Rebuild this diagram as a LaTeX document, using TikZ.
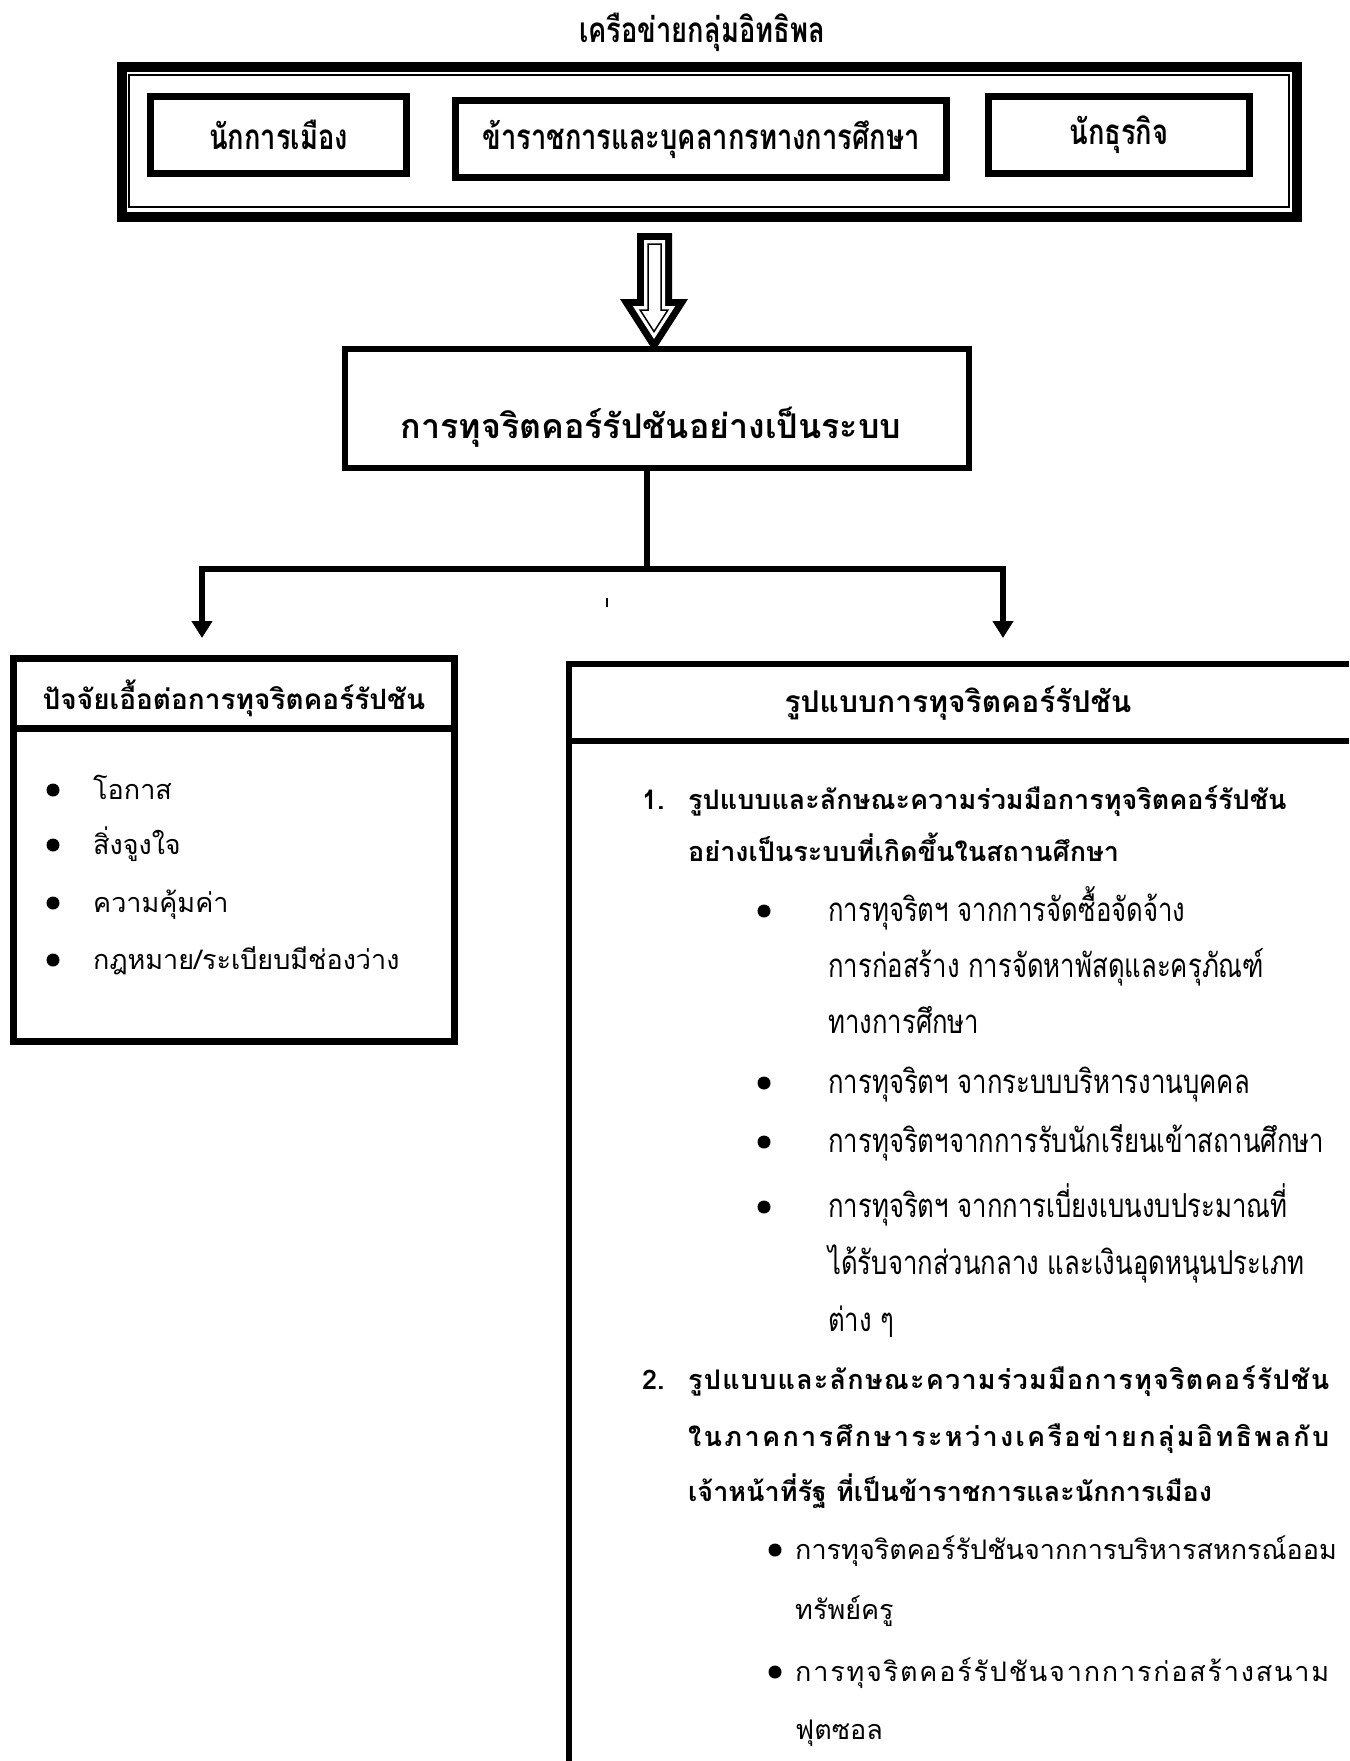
\documentclass[tikz,border=0pt]{standalone}
\usepackage{fontspec}
\usetikzlibrary{arrows.meta}
\newfontfamily\thai[Script=Thai]{Loma}
\newfontfamily\thaicond[Script=Thai,FakeStretch=0.78]{Loma}
\newcommand\tbold{\thai\bfseries\fontsize{27}{30}\selectfont}
\newcommand\treg{\thai\fontsize{27}{30}\selectfont}
\newcommand\tcond{\thaicond\fontsize{33}{36}\selectfont}
\newcommand\tcondb{\thaicond\bfseries\fontsize{35}{38}\selectfont}
\newcommand\gp{\hfil}
\begin{document}
\begin{tikzpicture}[x=1pt,y=-1pt,
  box/.style={draw, line width=7pt, inner sep=0pt},
  conn/.style={line width=5.5pt},
  tipped/.style={-{Triangle[length=17pt,width=20pt]}},
  line/.style={inner sep=0pt, anchor=base west},
  dot/.style={circle, fill, inner sep=0pt, minimum size=13pt}]
\useasboundingbox (0,0) rectangle (1349,1761);
\fill[white] (0,0) rectangle (1349,1761);

% title
\node[inner sep=0pt, font=\tcondb] (title) at (702,32) {เครือข่ายกลุ่มอิทธิพล};

% top frame
\node[draw, line width=10pt, minimum width=1175pt, minimum height=150pt] (frame) at (709.5,142) {};
\draw[line width=2pt] (129,75) rectangle (1289,207);
\node[box, minimum width=256pt, minimum height=77pt, font=\tcondb] (pol) at (278.5,135) {นักการเมือง};
\node[box, minimum width=491pt, minimum height=77pt, font=\tcondb] (off) at (701,139) {ข้าราชการและบุคลากรทางการศึกษา};
\node[box, minimum width=261pt, minimum height=77pt, font=\tcondb] (bus) at (1119,135) {นักธุรกิจ};

% hollow arrow
\fill[black] (637,233) -- (672,233) -- (672,299) -- (688,299) -- (654,352) -- (620,299) -- (637,299) -- cycle;
\fill[white] (644,240) -- (665,240) -- (665,306) -- (675.2,306) -- (654,339) -- (632.8,306) -- (644,306) -- cycle;
\draw[line width=1.5pt, line join=miter] (648,244) -- (661,244) -- (661,310) -- (667.9,310) -- (654,331.6) -- (640.1,310) -- (648,310) -- cycle;

% main box
\node[draw, line width=6pt, minimum width=624pt, minimum height=119pt] (main) at (657,408.5) {};
\node[inner sep=0pt, font=\thai\bfseries\fontsize{34}{38}\selectfont] (maintext) at (651,427) {การทุจริตคอร์รัปชันอย่างเป็นระบบ};

% connectors
\coordinate (split) at (647,569);
\coordinate (ltip) at (202,638);
\coordinate (rtip) at (1003,638);
\draw[conn] (main.south -| split) -- (split);
\draw[conn, tipped] (split) -| (ltip);
\draw[conn, tipped] (split) -| (rtip);
\draw[line width=1.5pt] (607,598) -- (607,607);

% left box
\node[box, minimum width=441pt, minimum height=383pt] (fac) at (234,850) {};
\draw[line width=7pt] (fac.west |- 0,728) -- (fac.east |- 0,728);
\node[inner sep=0pt, font=\thai\bfseries\fontsize{28}{30}\selectfont] (fach) at (234,698) {ปัจจัยเอื้อต่อการทุจริตคอร์รัปชัน};
\foreach \y/\t [count=\i] in {790/{โอกาส}, 845/{สิ่งจูงใจ}, 903/{ความคุ้มค่า}, 960/{กฎหมาย/ระเบียบมีช่องว่าง}}{
  \node[dot] (fd\i) at (53,\y) {};
  \node[line, font=\treg] (ft\i) at (93,\y+9) {\t};
}

% right box
\coordinate (rb) at (569,664);
\draw[line width=6pt] (1349,664) -- (rb) -- (569,1761);
\draw[line width=6pt] (569,741) -- (1349,741);
\node[inner sep=0pt, font=\thai\bfseries\fontsize{30}{32}\selectfont] (formh) at (958,703) {รูปแบบการทุจริตคอร์รัปชัน};

\node[line, font=\tbold] (n1) at (642,809) {1.};
\node[line, font=\tbold] (i1a) at (688,809) {รูปแบบและลักษณะความร่วมมือการทุจริตคอร์รัปชัน};
\node[line, font=\tbold] (i1b) at (688,861) {อย่างเป็นระบบที่เกิดขึ้นในสถานศึกษา};

\node[dot] (d1) at (764,911) {};
\node[line, font=\tcond] (b1a) at (828,921) {การทุจริตฯ จากการจัดซื้อจัดจ้าง};
\node[line, font=\tcond] (b1b) at (828,977) {การก่อสร้าง การจัดหาพัสดุและครุภัณฑ์};
\node[line, font=\tcond] (b1c) at (828,1033) {ทางการศึกษา};
\node[dot] (d2) at (764,1083) {};
\node[line, font=\tcond] (b2) at (828,1093) {การทุจริตฯ จากระบบบริหารงานบุคคล};
\node[dot] (d3) at (764,1142) {};
\node[line, font=\tcond] (b3) at (828,1152) {การทุจริตฯจากการรับนักเรียนเข้าสถานศึกษา};
\node[dot] (d4) at (764,1207) {};
\node[line, font=\tcond] (b4a) at (828,1217) {การทุจริตฯ จากการเบี่ยงเบนงบประมาณที่};
\node[line, font=\tcond] (b4b) at (828,1274) {ได้รับจากส่วนกลาง และเงินอุดหนุนประเภท};
\node[line, font=\tcond] (b4c) at (828,1331) {ต่าง ๆ};

\node[line, font=\tbold] (n2) at (642,1389) {2.};
\node[line, font=\tbold] (i2a) at (688,1389) {\makebox[641pt][s]{รู\gp ป\gp แ\gp บ\gp บ\gp แ\gp ล\gp ะ\gp ลั\gp ก\gp ษ\gp ณ\gp ะ\gp ค\gp ว\gp า\gp ม\gp ร่\gp ว\gp ม\gp มื\gp อ\gp ก\gp า\gp ร\gp ทุ\gp จ\gp ริ\gp ต\gp ค\gp อ\gp ร์\gp รั\gp ป\gp ชั\gp น}};
\node[line, font=\tbold] (i2b) at (688,1446) {\makebox[641pt][s]{ใ\gp น\gp ภ\gp า\gp ค\gp ก\gp า\gp ร\gp ศึ\gp ก\gp ษ\gp า\gp ร\gp ะ\gp ห\gp ว่\gp า\gp ง\gp เ\gp ค\gp รื\gp อ\gp ข่\gp า\gp ย\gp ก\gp ลุ่\gp ม\gp อิ\gp ท\gp ธิ\gp พ\gp ล\gp กั\gp บ}};
\node[line, font=\tbold] (i2c) at (688,1501) {เจ้าหน้าที่รัฐ ที่เป็นข้าราชการและนักการเมือง};

\node[dot] (d5) at (775,1550) {};
\node[line, font=\treg] (b5a) at (795,1559) {การทุจริตคอร์รัปชันจากการบริหารสหกรณ์ออม};
\node[line, font=\treg] (b5b) at (795,1619) {ทรัพย์ครู};
\node[dot] (d6) at (775,1672) {};
\node[line, font=\treg] (b6a) at (795,1681) {\makebox[534pt][s]{ก\gp า\gp ร\gp ทุ\gp จ\gp ริ\gp ต\gp ค\gp อ\gp ร์\gp รั\gp ป\gp ชั\gp น\gp จ\gp า\gp ก\gp ก\gp า\gp ร\gp ก่\gp อ\gp ส\gp ร้\gp า\gp ง\gp ส\gp น\gp า\gp ม}};
\node[line, font=\treg] (b6b) at (795,1739) {ฟุตซอล};
\end{tikzpicture}
\end{document}
